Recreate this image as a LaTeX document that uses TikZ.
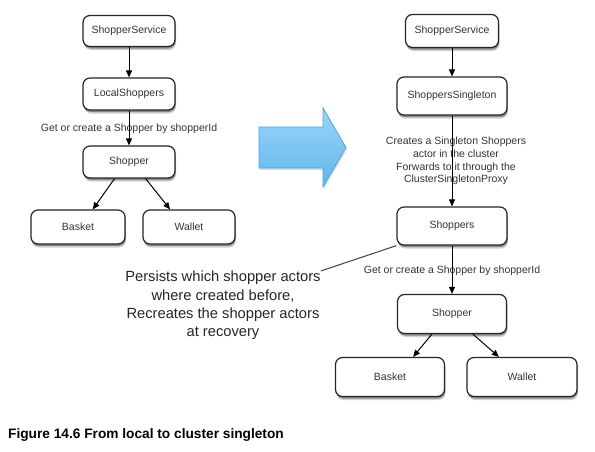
\documentclass[tikz,border=0pt]{standalone}
\usepackage{fontspec}
\setmainfont{Liberation Sans}
\usetikzlibrary{arrows.meta,shadows}
\definecolor{arrowtop}{HTML}{9AD5F8}
\definecolor{arrowbot}{HTML}{62B6EC}
\definecolor{arrowedge}{HTML}{4AA6E6}
\begin{document}
\begin{tikzpicture}[x=1pt,y=-1pt,
  box/.style={draw=black!85, rounded corners=7pt, line width=1.2pt, fill=white, inner sep=0pt,
    font=\fontsize{10.5}{12}\selectfont, text=black!80,
    drop shadow={shadow xshift=1pt, shadow yshift=-3.5pt, opacity=0.18, fill=black},
    drop shadow={shadow xshift=0.6pt, shadow yshift=-2pt, opacity=0.35, fill=black}},
  conn/.style={line width=1pt, -{Triangle[length=7pt,width=6pt]}},
  lbl/.style={font=\fontsize{10.5}{12.7}\selectfont, text=black!80, align=center, inner sep=0pt},
]
\useasboundingbox (0,0) rectangle (595,451);
\fill[white] (0,0) rectangle (595,451);

% left diagram
\node[box, minimum width=92pt, minimum height=31pt] (lss) at (129,31) {ShopperService};
\node[box, minimum width=92pt, minimum height=32pt] (lls) at (129,94) {LocalShoppers};
\node[box, minimum width=92pt, minimum height=32pt] (lsh) at (129,162) {Shopper};
\node[box, minimum width=94pt, minimum height=34pt] (lba) at (78,227) {Basket};
\node[box, minimum width=92pt, minimum height=34pt] (lwa) at (189,227) {Wallet};
\node[lbl] (llab) at (129,129) {Get or create a Shopper by shopperId};
\draw[conn] (lss) -- (lls);
\draw[conn] (lls) -- (lsh);
\draw[conn] (lsh.229) -- (lba.50);
\draw[conn] (lsh.315) -- (lwa.137);

% big blue arrow
\fill[black, opacity=0.12] (260,129) -- (324,129) -- (324,110) -- (347,149.5) -- (324,189) -- (324,170) -- (260,170) -- cycle;
\draw[top color=arrowtop, bottom color=arrowbot, draw=arrowedge, line width=0.8pt]
  (259,127) -- (323,127) -- (323,108) -- (346,147.5) -- (323,187) -- (323,168) -- (259,168) -- cycle;

% right diagram
\node[box, minimum width=93pt, minimum height=33pt] (rss) at (452,31) {ShopperService};
\node[box, minimum width=110pt, minimum height=38pt] (rsi) at (452,96) {ShoppersSingleton};
\node[box, minimum width=110pt, minimum height=38pt] (rsh) at (452,226) {Shoppers};
\node[box, minimum width=109pt, minimum height=39pt] (rsp) at (452,314) {Shopper};
\node[box, minimum width=109pt, minimum height=39pt] (rba) at (390,377) {Basket};
\node[box, minimum width=110pt, minimum height=39pt] (rwa) at (522,377) {Wallet};
\node[lbl] (rlab1) at (456,161) {Creates a Singleton Shoppers\\actor in the cluster\\Forwards to it through the\\ClusterSingletonProxy};
\node[lbl] (rlab2) at (452,271) {Get or create a Shopper by shopperId};
\node[font=\fontsize{14.7}{18.3}\selectfont, text=black!85, align=center, inner sep=0pt] (persist) at (223,305.5)
  {Persists which shopper actors\\where created before,\\Recreates the shopper actors\\at recovery};
\draw[conn] (rss) -- (rsi);
\draw[conn] (rsi) -- (rsh);
\draw[conn] (rsh) -- (rsp);
\draw[conn] (rsp.225) -- (rba.41);
\draw[conn] (rsp.316) -- (rwa.139);
\draw[line width=1pt, black!75] (rsh.south west) -- (persist.north east);

% caption
\node[anchor=west, font=\bfseries\fontsize{13.7}{16}\selectfont, inner sep=0pt] (cap) at (8,435)
  {Figure 14.6 From local to cluster singleton};
\end{tikzpicture}
\end{document}
